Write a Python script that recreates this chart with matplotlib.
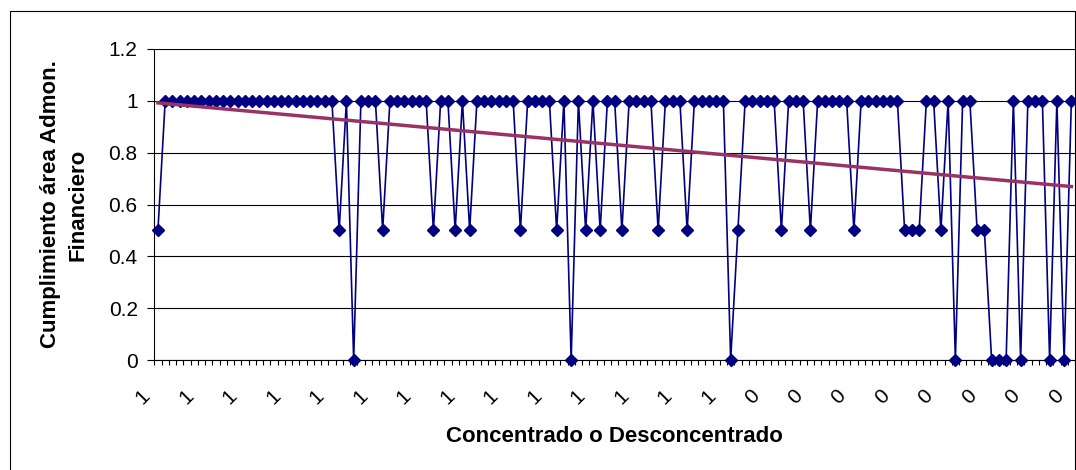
import numpy as np
import matplotlib
matplotlib.use('Agg')
import matplotlib.pyplot as plt
from matplotlib.transforms import ScaledTranslation
from matplotlib.patches import Rectangle

plt.rcParams['font.family'] = ['Liberation Sans', 'DejaVu Sans']

# Cumplimiento area Admon. Financiero, one value per record
cumplimiento = [
    0.5, 1, 1, 1, 1, 1, 1, 1, 1, 1, 1, 1, 1, 1, 1, 1, 1, 1, 1, 1,
    1, 1, 1, 1, 1, 0.5, 1, 0, 1, 1, 1, 0.5, 1, 1, 1, 1, 1, 1, 0.5, 1,
    1, 0.5, 1, 0.5, 1, 1, 1, 1, 1, 1, 0.5, 1, 1, 1, 1, 0.5, 1, 0, 1, 0.5,
    1, 0.5, 1, 1, 0.5, 1, 1, 1, 1, 0.5, 1, 1, 1, 0.5, 1, 1, 1, 1, 1, 0,
    0.5, 1, 1, 1, 1, 1, 0.5, 1, 1, 1, 0.5, 1, 1, 1, 1, 1, 0.5, 1, 1, 1,
    1, 1, 1, 0.5, 0.5, 0.5, 1, 1, 0.5, 1, 0, 1, 1, 0.5, 0.5, 0, 0, 0, 1, 0,
    1, 1, 1, 0, 1, 0, 1,
]
# Concentrado (1) o Desconcentrado (0) for each record
concentrado = [1] * 81 + [0] * 46

y_ticks = [0, 0.2, 0.4, 0.6, 0.8, 1, 1.2]
y_tick_labels = ['0', '0.2', '0.4', '0.6', '0.8', '1', '1.2']
label_step = 6

n = len(cumplimiento)
x = np.arange(n)

W, H = 1076, 470
fig = plt.figure(figsize=(W / 100, H / 100), dpi=100)
ax = fig.add_axes([154.3 / W, 1 - 360 / H, (1075 - 154.3) / W, (360 - 49) / H])

ax.plot(x, cumplimiento, color='#000080', lw=1.2, marker='D', ms=6,
        clip_on=False, zorder=3)

# linear trend line, like the spreadsheet one
slope, intercept = np.polyfit(x + 1, cumplimiento, 1)
ax.plot(x, slope * (x + 1) + intercept, color='#993366', lw=2.5, zorder=4)

ax.set_xlim(-0.5, n - 0.5)
ax.set_ylim(0, 1.2)

ax.set_yticks(y_ticks, y_tick_labels, fontsize=15)
ax.tick_params(axis='y', length=5, width=0.8, pad=7, direction='out')
ax.yaxis.grid(True, color='black', lw=0.8)
ax.set_axisbelow(True)

ax.set_xticks(x[::label_step], [str(concentrado[i]) for i in x[::label_step]],
              fontsize=15, rotation=45, ha='center', va='center')
ax.set_xticks(np.arange(-0.5, n, 1), minor=True)
ax.tick_params(axis='x', which='major', length=0, pad=26.5)
ax.tick_params(axis='x', which='minor', length=3.6, width=0.8, direction='out')
for lab in ax.get_xticklabels():
    lab.set_transform(lab.get_transform() + ScaledTranslation(-0.15, 0, fig.dpi_scale_trans))

for side in ['top', 'right']:
    ax.spines[side].set_visible(False)
for side in ['left', 'bottom']:
    ax.spines[side].set_linewidth(0.8)

ax.set_ylabel('Cumplimiento área Admon.\nFinanciero', fontsize=16,
              fontweight='bold', linespacing=1.4)
ax.yaxis.set_label_coords((64 - 154.3) / (1075 - 154.3), 0.5)
ax.yaxis.label.set_verticalalignment('center')

ax.set_xlabel('Concentrado o Desconcentrado', fontsize=16, fontweight='bold')
ax.xaxis.set_label_coords(0.5, (360 - 437) / (360 - 49))
ax.xaxis.label.set_verticalalignment('center')

# outer chart frame
fig.add_artist(Rectangle((10 / W, -0.05), (1074.5 - 10) / W, 1 - 11 / H + 0.05,
                         transform=fig.transFigure, fill=False, ec='black', lw=0.8))

fig.savefig('out.png', dpi=100)
